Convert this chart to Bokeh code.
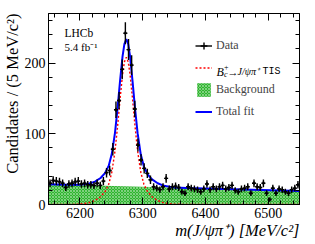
import math
from bokeh.plotting import figure
from bokeh.models import (Range1d, LinearAxis, SingleIntervalTicker, Legend, Title,
                          LegendItem, Label, ColumnDataSource, CustomJSTickFormatter)
from bokeh.embed import file_html
from bokeh.resources import INLINE

# ---------------- data ----------------
BIN_LO = 6150.0
BIN_WIDTH = 5.0
counts = [30, 34, 33, 32, 30, 24, 29, 30, 32, 33, 29, 30, 28, 28, 27, 30, 27, 33, 45, 48,
          78, 134, 147, 191, 242, 219, 197, 135, 84, 63, 51, 44, 35, 25, 23, 21, 25, 37, 22, 25,
          26, 24, 18, 16, 25, 23, 22, 21, 18, 22, 29, 21, 25, 22, 25, 27, 22, 24, 27, 20,
          18, 22, 23, 25, 16, 30, 25, 24, 30, 16, 7, 23, 16, 22, 21, 18, 16, 21, 23, 28]

fit_mass = [6150, 6180, 6199, 6214, 6224, 6233, 6240, 6246, 6251, 6256, 6260, 6264, 6268,
            6271, 6274, 6277, 6280, 6284, 6288, 6292, 6297, 6302, 6308, 6315, 6324, 6334,
            6349, 6370, 6400, 6550]
fit_signal = [0.0, 0.02, 0.46, 2.3, 5.6, 11.0, 17.9, 28.7, 45.9, 75.7, 109.6, 148.5, 183.8,
              201.6, 208.0, 201.6, 183.8, 148.5, 109.6, 75.7, 45.9, 28.7, 17.9, 11.0, 5.6, 2.3,
              0.46, 0.02, 0.0, 0.0]
fit_total = [28.5, 27.8, 27.8, 29.3, 32.3, 37.5, 44.3, 54.9, 72.0, 101.7, 135.5, 174.3, 209.5,
             227.2, 233.6, 227.1, 209.2, 173.8, 134.8, 100.8, 70.9, 53.6, 42.7, 35.6, 30.0, 26.4,
             24.2, 23.3, 22.6, 19.0]
bkg_mass = [6150, 6550]
bkg_level = [28.5, 19.0]
bkg_floor = [0, 0]

X_RANGE = (6150, 6550)
Y_RANGE = (0, 270)
TICK_STEP = 100
X_TITLE = "m(J/ψπ⁺) [MeV/c²]"
Y_TITLE = "Candidates / (5 MeV/c²)"

centers = [BIN_LO + BIN_WIDTH * (i + 0.5) for i in range(len(counts))]
errs = [math.sqrt(c) for c in counts]
src = ColumnDataSource(dict(
    x=centers, y=counts,
    lo=[c - e for c, e in zip(counts, errs)], hi=[c + e for c, e in zip(counts, errs)],
    xl=[x - BIN_WIDTH / 2 for x in centers], xr=[x + BIN_WIDTH / 2 for x in centers]))

# ---------------- layout ----------------
W, H = 315, 244
BL, BR, BT, BB = 44, 16, 13, 40
FW, FH = W - BL - BR, H - BT - BB
SERIF = "Liberation Serif"

p = figure(width=W, height=H, output_backend="svg", toolbar_location=None,
           x_range=Range1d(*X_RANGE), y_range=Range1d(*Y_RANGE),
           min_border_left=BL, min_border_right=BR, min_border_top=BT, min_border_bottom=BB)
p.grid.visible = False
p.outline_line_color = "black"
p.outline_line_width = 1
p.background_fill_color = "white"
p.border_fill_color = "white"

def style_axis(ax, labels=True):
    ax.ticker = SingleIntervalTicker(interval=TICK_STEP, num_minor_ticks=5)
    ax.major_tick_in = 7
    ax.major_tick_out = 0
    ax.minor_tick_in = 4
    ax.minor_tick_out = 0
    ax.axis_line_color = "black"
    ax.major_tick_line_color = "black"
    ax.minor_tick_line_color = "black"
    ax.major_label_text_font = SERIF
    ax.major_label_text_color = "black"
    if labels:
        ax.major_label_text_font_size = "14px"
        ax.major_label_standoff = 3
    else:
        ax.formatter = CustomJSTickFormatter(code="return ''")
        ax.major_label_standoff = 0

style_axis(p.xaxis[0])
style_axis(p.yaxis[0])
for loc in ("right", "above"):
    ax = LinearAxis()
    style_axis(ax, labels=False)
    p.add_layout(ax, loc)

# axis titles (right / top aligned, as in the reference)
p.add_layout(Title(text=X_TITLE, align="right", text_font=SERIF, text_font_size="16.5px",
                   text_font_style="italic", text_color="black", standoff=0,
                   vertical_align="top"), "below")
p.add_layout(Title(text=Y_TITLE, align="right", text_font=SERIF, text_font_size="16.5px",
                   text_font_style="normal", text_color="black", standoff=0), "left")

# ---------------- glyphs ----------------
green = p.varea(x=bkg_mass, y1=bkg_floor, y2=bkg_level, fill_color="#2fb52f",
                hatch_pattern="diagonal_cross", hatch_color="white", hatch_alpha=0.55,
                hatch_scale=3, hatch_weight=0.7)
sig = p.line(fit_mass, fit_signal, line_color="#ff0000", line_dash="2 2", line_width=1.4)
tot = p.line(fit_mass, fit_total, line_color="#0000ff", line_width=2)
yerr = p.segment(x0="x", y0="lo", x1="x", y1="hi", source=src, line_color="black", line_width=1.4)
xerr = p.segment(x0="xl", y0="y", x1="xr", y1="y", source=src, line_color="black", line_width=1.4)
pts = p.scatter("x", "y", source=src, marker="cross", size=4, line_color="black", line_width=1.4)

# ---------------- legend ----------------
FRAME_L_ABS, FRAME_B_ABS = BL, BT + FH
legend = Legend(items=[
    LegendItem(label="Data", renderers=[xerr, pts]),
    LegendItem(label=" ", renderers=[sig]),
    LegendItem(label="Background", renderers=[green]),
    LegendItem(label="Total fit", renderers=[tot]),
], location=(191 - FRAME_L_ABS, FRAME_B_ABS - 120), glyph_width=17, glyph_height=17,
    label_standoff=4, spacing=5, padding=0, margin=0, border_line_color=None,
    background_fill_alpha=0, label_text_font=SERIF, label_text_font_size="12px")
p.add_layout(legend)

def lab(text, ax_abs, ay_abs, size, style="normal", font=SERIF, align="left"):
    p.add_layout(Label(x=ax_abs - FRAME_L_ABS, y=FRAME_B_ABS - ay_abs,
                       x_units="screen", y_units="screen", text=text,
                       text_font=font, text_font_size=size, text_font_style=style,
                       text_align=align, text_baseline="alphabetic", text_color="black"))

# signal legend text built from pieces (absolute pixel positions)
row = 71
lab("B", 212, row, "12px", "italic")
lab("c", 219.5, row + 3, "8px", "italic")
lab("+", 219.5, row - 5, "8px")
lab("→", 223, row, "11px")
lab("J/ψπ⁺", 233, row, "10px", "italic")
lab("TIS", 258, row, "10px", font="Liberation Mono")

# LHCb label
lab("LHCb", 60, 32, "11.5px")
lab("5.4 fb⁻¹", 60, 46, "11px")

open("out.html", "w").write(file_html(p, INLINE))
